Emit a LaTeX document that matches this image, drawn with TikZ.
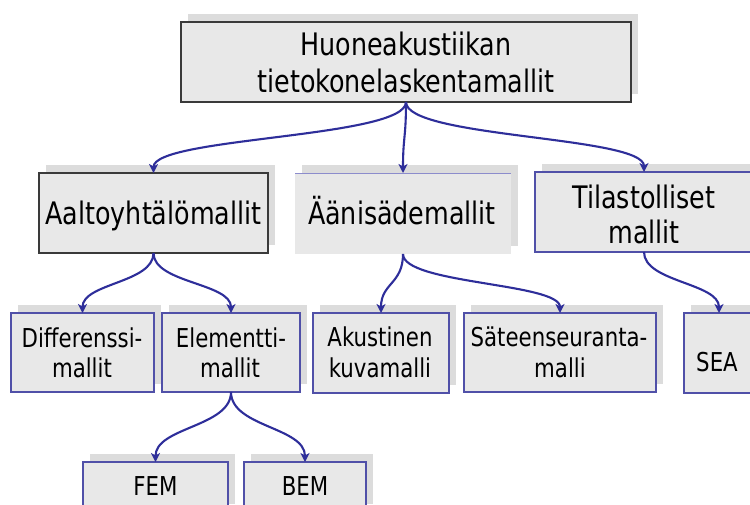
\documentclass[tikz,border=0pt]{standalone}
\usepackage{fontspec}
\setmainfont{DejaVu Sans Condensed}[FakeStretch=0.91]
\usetikzlibrary{arrows.meta}
\definecolor{boxfill}{HTML}{E8E8E8}
\definecolor{shadowc}{HTML}{DCDCDC}
\definecolor{arrowc}{HTML}{2E2E9A}
\definecolor{blueedge}{HTML}{5050A8}
\definecolor{lightedge}{HTML}{8C8CCC}
\definecolor{darkedge}{HTML}{3A3A3A}
\newcommand\drawbox[6]{%
  \fill[shadowc] ({#2+7},{#3-8}) rectangle ++(#4,#5);
  \node[boxshape,#6,anchor=north west,minimum width=#4 pt,minimum height=#5 pt] (#1) at (#2,#3) {};}
\begin{document}
\begin{tikzpicture}[x=1pt,y=-1pt,
  boxshape/.style={draw=blueedge, line width=1.2pt, fill=boxfill, inner sep=0pt, outer sep=0pt},
  darkbox/.style={draw=darkedge},
  nobox/.style={draw=none},
  bigtext/.style={font=\fontsize{31}{36}\selectfont, inner sep=0pt, anchor=base},
  smalltext/.style={font=\fontsize{26}{30}\selectfont, inner sep=0pt, anchor=base},
  conn/.style={draw=arrowc, line width=2.1pt, -{Stealth[length=9pt,width=9pt,inset=2.5pt]}},
]
\useasboundingbox (0,0) rectangle (750,504);
\fill[white] (0,0) rectangle (750,504);

% boxes
\drawbox{top}{181}{22}{450}{80}{darkbox}
\drawbox{aalto}{39}{173}{229}{80}{darkbox}
\drawbox{aani}{295}{173}{216}{81}{nobox}
\draw[lightedge, line width=1pt] (aani.north west) -- (aani.north east);
\drawbox{tila}{535}{172}{218}{80}{}
\drawbox{diff}{11}{313}{143}{79}{}
\drawbox{elem}{162}{313}{138}{79}{}
\drawbox{akus}{313}{313}{136}{80}{}
\drawbox{sate}{464}{313}{192}{79}{}
\drawbox{sea}{684}{313}{70}{80}{}
\drawbox{fem}{83}{462}{145}{50}{}
\drawbox{bem}{244}{462}{122}{50}{}

% connectors
\draw[conn] (top.south) .. controls +(0,36) and +(0,-36) .. (aalto.north);
\draw[conn] (top.south) .. controls +(0,36) and +(0,-36) .. (aani.north);
\draw[conn] (top.south) .. controls +(0,36) and +(0,-36) .. (tila.north);
\draw[conn] (aalto.south) .. controls +(0,30) and +(0,-30) .. (diff.north);
\draw[conn] (aalto.south) .. controls +(0,30) and +(0,-30) .. (elem.north);
\draw[conn] (aani.south) .. controls +(0,30) and +(0,-30) .. (akus.north);
\draw[conn] (aani.south) .. controls +(0,30) and +(0,-30) .. (sate.north);
\draw[conn] (tila.south) .. controls +(0,30) and +(0,-30) .. (sea.north);
\draw[conn] (elem.south) .. controls +(0,35) and +(0,-35) .. (fem.north);
\draw[conn] (elem.south) .. controls +(0,35) and +(0,-35) .. (bem.north);

% texts
\node[bigtext] (topa) at (406,55) {Huoneakustiikan};
\node[bigtext] (topb) at (406,92) {tietokonelaskentamallit};
\node[bigtext] (aaltot) at (153.5,224) {Aaltoyhtälömallit};
\node[bigtext] (aanit) at (402,224) {Äänisädemallit};
\node[bigtext] (tilaa) at (644,208) {Tilastolliset};
\node[bigtext] (tilab) at (644,243) {mallit};
\node[smalltext] (diffa) at (82,347) {Differenssi-};
\node[smalltext] (diffb) at (82,377) {mallit};
\node[smalltext] (elema) at (231,347) {Elementti-};
\node[smalltext] (elemb) at (230,377) {mallit};
\node[smalltext] (akusa) at (380,346) {Akustinen};
\node[smalltext] (akusb) at (380,377) {kuvamalli};
\node[smalltext] (satea) at (559,346) {Säteenseuranta-};
\node[smalltext] (sateb) at (560,377) {malli};
\node[smalltext] (seat) at (717,371) {SEA};
\node[smalltext] (femt) at (155.5,495) {FEM};
\node[smalltext] (bemt) at (305,495) {BEM};
\end{tikzpicture}
\end{document}
